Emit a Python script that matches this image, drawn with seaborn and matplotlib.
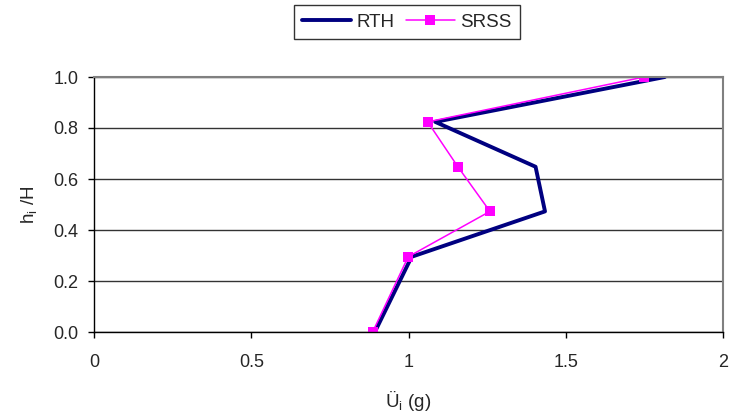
import seaborn as sns
import numpy as np
import matplotlib.pyplot as plt
import pandas as pd

# storey height ratios and peak floor accelerations (g)
h_ratio = [0.0, 0.295, 0.473, 0.648, 0.824, 1.0]
rth = [0.893, 1.010, 1.434, 1.404, 1.085, 1.815]
srss = [0.886, 0.999, 1.259, 1.157, 1.061, 1.749]

sns.set_theme(style="white")
plt.rcParams['font.family'] = ['Liberation Sans', 'DejaVu Sans']

df_rth = pd.DataFrame({'acc': rth, 'h': h_ratio})
df_srss = pd.DataFrame({'acc': srss, 'h': h_ratio})

fig = plt.figure(figsize=(7.32, 4.19), dpi=100)
ax = fig.add_axes([94 / 732, 1 - 332 / 419, (723 - 94) / 732, (332 - 77) / 419])

sns.lineplot(data=df_rth, x='acc', y='h', sort=False, color='#000080',
             linewidth=2.8, label='RTH', ax=ax)
sns.lineplot(data=df_srss, x='acc', y='h', sort=False, color='#FF00FF',
             linewidth=1.1, marker='s', markersize=7, markeredgewidth=0,
             label='SRSS', ax=ax)

ax.set_xlim(0, 2)
ax.set_ylim(0, 1.0)
ax.set_xticks([0, 0.5, 1, 1.5, 2])
ax.set_xticklabels(['0', '0.5', '1', '1.5', '2'])
ax.set_yticks(np.arange(0, 1.01, 0.2))
ax.set_yticklabels(['0.0', '0.2', '0.4', '0.6', '0.8', '1.0'])

ax.yaxis.grid(True, color='#333333', linewidth=1)
ax.xaxis.grid(False)
for s in ['left', 'bottom']:
    ax.spines[s].set_color('black')
    ax.spines[s].set_linewidth(1)
for s in ['top', 'right']:
    ax.spines[s].set_color('#808080')
    ax.spines[s].set_linewidth(1.5)

ax.tick_params(axis='both', which='major', direction='out', length=4,
               width=1, color='black', labelsize=13, left=True, bottom=True)
ax.tick_params(axis='y', pad=7)
ax.tick_params(axis='x', pad=12)

ax.set_xlabel('Ü$_\\mathregular{i}$ (g)', fontsize=13.5, labelpad=13)
ax.set_ylabel('h$_\\mathregular{i}$ /H', fontsize=13.5, labelpad=10)

leg = ax.legend(loc='center', bbox_to_anchor=(407 / 732, 1 - 22.5 / 419),
                bbox_transform=fig.transFigure, ncol=2, fontsize=13.5,
                frameon=True, fancybox=False, handlelength=2.6,
                columnspacing=0.6, handletextpad=0.3, borderpad=0.45)
leg.get_frame().set_edgecolor('black')
leg.get_frame().set_linewidth(1)

fig.savefig('out.png', dpi=100)
